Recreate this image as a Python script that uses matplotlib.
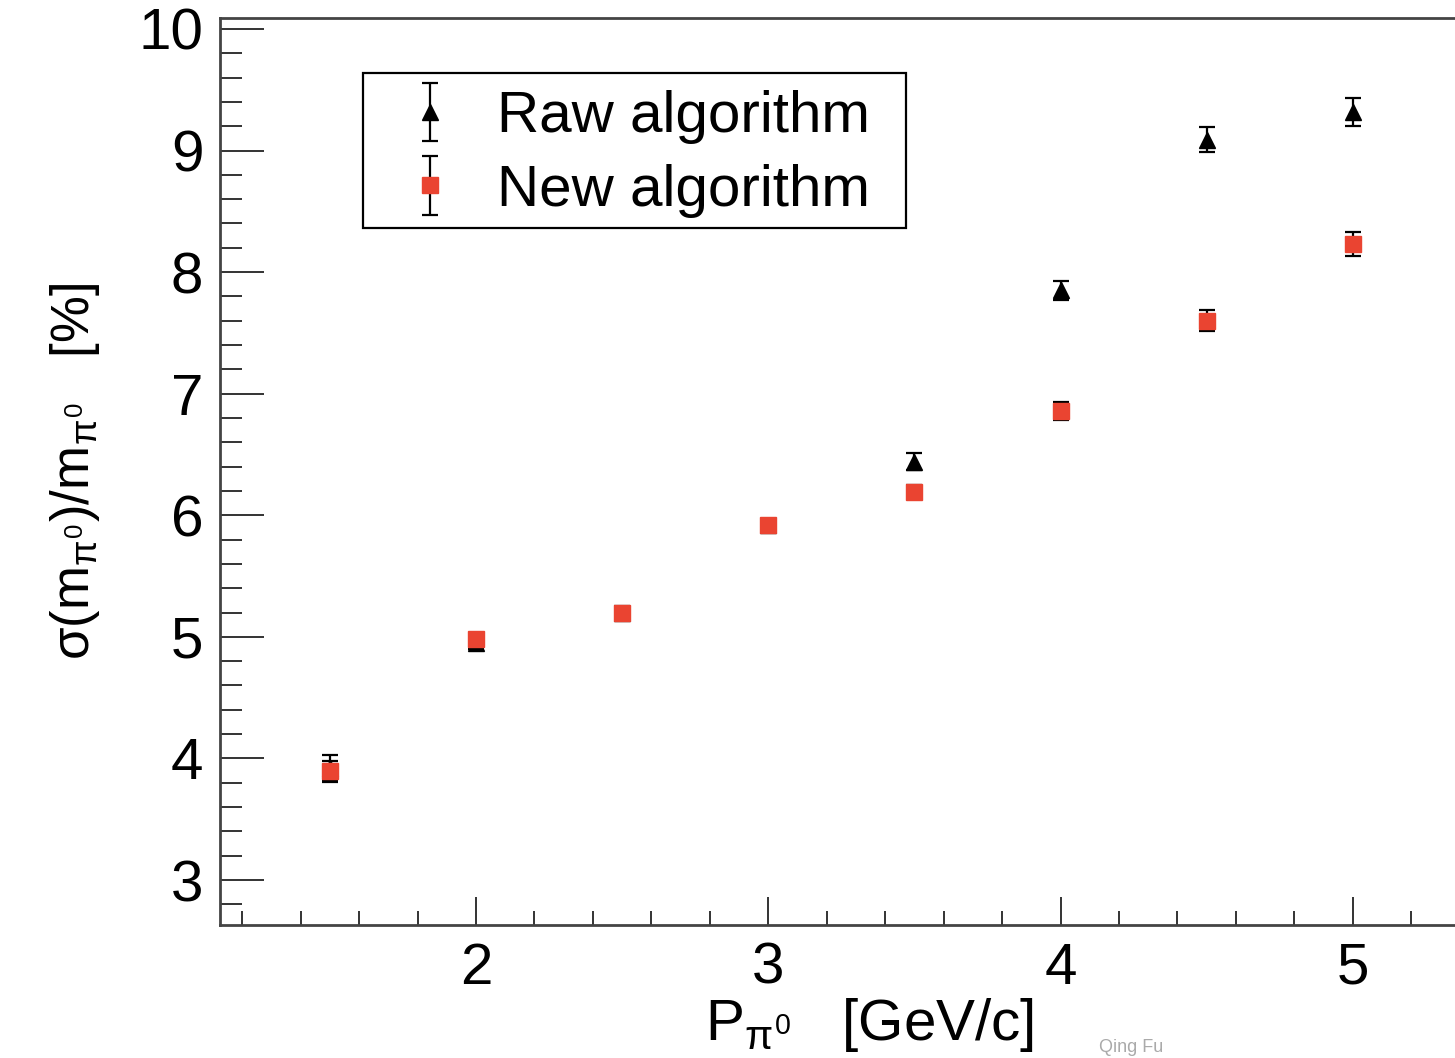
import matplotlib
matplotlib.use("Agg")
import matplotlib.pyplot as plt
from matplotlib.ticker import MultipleLocator
from matplotlib.patches import Rectangle

plt.rcParams['font.family'] = ['Liberation Sans', 'DejaVu Sans']
plt.rcParams['mathtext.fontset'] = 'custom'
plt.rcParams['mathtext.rm'] = 'Liberation Sans'
plt.rcParams['mathtext.it'] = 'Liberation Sans'
plt.rcParams['mathtext.sf'] = 'Liberation Sans'

# ---- data ----
momentum = [1.5, 2.0, 2.5, 3.0, 3.5, 4.0, 4.5, 5.0]
raw_res = [3.92, 4.95, 5.20, 5.92, 6.44, 7.85, 9.09, 9.32]
raw_err = [0.11, 0.05, 0.05, 0.05, 0.07, 0.08, 0.10, 0.115]
new_res = [3.90, 4.98, 5.20, 5.92, 6.19, 6.86, 7.60, 8.23]
new_err = [0.08, 0.04, 0.04, 0.05, 0.06, 0.075, 0.086, 0.10]
series_labels = ["Raw algorithm", "New algorithm"]
major_xticks = [2, 3, 4, 5]
major_yticks = [3, 4, 5, 6, 7, 8, 9, 10]

W, H = 1455, 1058
fig = plt.figure(figsize=(W / 100, H / 100), dpi=100)
left_px, right_px, top_px, bot_px = 220, 1499, 18, 925
ax = fig.add_axes([left_px / W, 1 - bot_px / H,
                   (right_px - left_px) / W, (bot_px - top_px) / H])

red = '#ea4431'
e1 = ax.errorbar(momentum, raw_res, yerr=raw_err, fmt='^', color='black',
                 ms=11, ecolor='black', elinewidth=1.6, capsize=5.5, capthick=1.6,
                 label=series_labels[0], zorder=3)
e2 = ax.errorbar(momentum, new_res, yerr=new_err, fmt='s', color=red, mec=red,
                 ms=12, ecolor='black', elinewidth=1.6, capsize=5.5, capthick=1.6,
                 label=series_labels[1], zorder=4)

ax.set_xlim(1.124, 5.5)
ax.set_ylim(2.63, 10.09)
ax.set_xticks(major_xticks)
ax.set_yticks(major_yticks)
ax.xaxis.set_minor_locator(MultipleLocator(0.2))
ax.yaxis.set_minor_locator(MultipleLocator(0.2))

ax.tick_params(axis='both', which='both', direction='in', colors='#333333',
               labelcolor='black', width=1.4, labelsize=42)
ax.tick_params(axis='y', which='major', length=32, pad=12)
ax.tick_params(axis='y', which='minor', length=16)
ax.tick_params(axis='x', which='major', length=20, pad=12)
ax.tick_params(axis='x', which='minor', length=10)
ax.tick_params(top=False, right=False, which='both')

for s in ['left', 'bottom', 'top']:
    ax.spines[s].set_color('#444444')
    ax.spines[s].set_linewidth(2.0)
ax.spines['right'].set_visible(False)

ax.set_xlabel(r'$\mathrm{P}_{\pi^{0}}$   [GeV/c]', fontsize=42)
ax.xaxis.set_label_coords((870 - left_px) / (right_px - left_px), -0.078)
ax.set_ylabel(r'$\sigma(\mathrm{m}_{\pi^{0}})/\mathrm{m}_{\pi^{0}}$   [%]', fontsize=38)
ax.yaxis.set_label_coords((102 - left_px) / (right_px - left_px), 0.5)

leg = ax.legend(handles=[e1, e2], labels=series_labels, loc='upper left',
                bbox_to_anchor=((363 - left_px) / (right_px - left_px),
                                1 - (73 - top_px) / (bot_px - top_px)),
                fontsize=42, frameon=False, numpoints=1,
                borderpad=0.3, labelspacing=0.33, handlelength=1.7,
                handletextpad=0.3, borderaxespad=0)

fig.canvas.draw()
bb = leg.get_window_extent()
frame = Rectangle((bb.x0, bb.y0 + 7), bb.width + 18, bb.height - 7, transform=None,
                  fill=False, edgecolor='black', linewidth=1.6, zorder=6)
fig.add_artist(frame)

fig.text(1131 / W, 1 - 1056 / H, 'Qing Fu', fontsize=13, color='#aaaaaa',
         ha='center', va='bottom')

fig.savefig('out.png', dpi=100)
